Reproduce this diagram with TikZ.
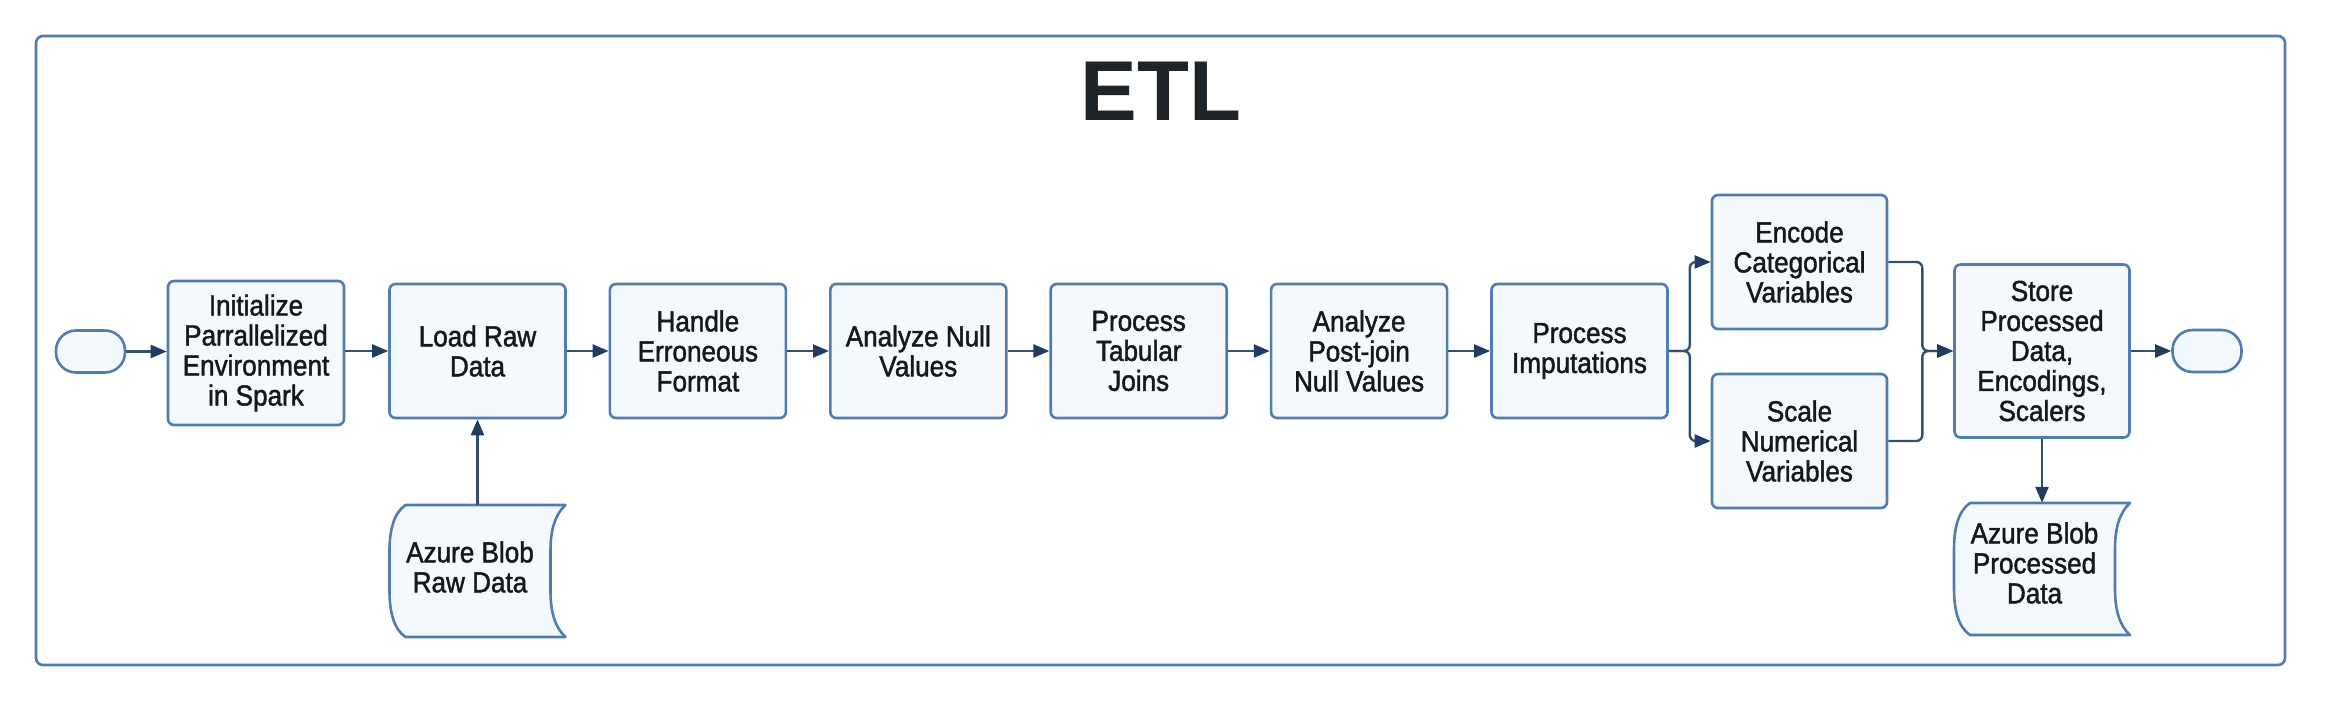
\documentclass[tikz,border=0pt]{standalone}
\usepackage{fontspec}
\setmainfont{Liberation Sans}
\newfontfamily\boxfont[FakeStretch=0.9,FakeBold=1.5]{Liberation Sans}
\usetikzlibrary{arrows.meta}
\definecolor{frameblue}{HTML}{4F7DB3}
\definecolor{boxfill}{HTML}{F5F9FE}
\definecolor{arrowc}{HTML}{34506F}
\definecolor{headc}{HTML}{1F3D63}
\definecolor{txt}{HTML}{16181B}
\definecolor{titlec}{HTML}{1F2429}
\newcommand\blobpath[2]{%
  \draw[blobline] (#1-72,#2-66) -- (#1+88,#2-66)
    .. controls (#1+77,#2-56) and (#1+73,#2-40) .. (#1+73,#2-20)
    -- (#1+73,#2+20)
    .. controls (#1+73,#2+40) and (#1+77,#2+56) .. (#1+88,#2+66)
    -- (#1-72,#2+66)
    .. controls (#1-84,#2+58) and (#1-88,#2+40) .. (#1-88,#2+20)
    -- (#1-88,#2-20)
    .. controls (#1-88,#2-40) and (#1-84,#2-58) .. (#1-72,#2-66) -- cycle;}
\begin{document}
\begin{tikzpicture}[x=1pt,y=-1pt,
  proc/.style={draw=frameblue, fill=boxfill, line width=2.6pt, rounded corners=6pt,
    minimum width=176pt, minimum height=134pt, align=center,
    font=\boxfont\fontsize{29}{30}\selectfont, text=txt, inner sep=0pt},
  term/.style={draw=frameblue, fill=boxfill, line width=2.6pt, rounded corners=20pt,
    minimum width=69pt, minimum height=42pt, inner sep=0pt},
  blobline/.style={draw=frameblue, fill=boxfill, line width=2.6pt, line join=round},
  blobtext/.style={align=center, font=\boxfont\fontsize{29}{30}\selectfont, text=txt, inner sep=0pt},
  blobbox/.style={minimum width=176pt, minimum height=132pt, inner sep=0pt},
  flow/.style={draw=arrowc, line width=2.4pt, rounded corners=6pt,
    -{Triangle[length=16pt,width=13pt,color=headc]}},
]
\useasboundingbox (0,0) rectangle (2328,702);
\node[draw=frameblue, line width=2.6pt, rounded corners=7pt, minimum width=2249pt,
  minimum height=629pt, inner sep=0pt] (frame) at (1160.5,350.5) {};
\node[font=\fontsize{85}{85}\selectfont\bfseries, text=titlec, anchor=base, inner sep=0pt]
  (title) at (1161,120) {ETL};

\node[term] (start) at (90.5,351.5) {};
\node[proc, minimum height=144pt] (init) at (256,353) {Initialize\\Parrallelized\\Environment\\in Spark};
\node[proc] (load) at (477.5,351) {Load Raw\\Data};
\node[proc] (handle) at (697.9,351) {Handle\\Erroneous\\Format};
\node[proc] (nullv) at (918.3,351) {Analyze Null\\Values};
\node[proc] (tabular) at (1138.7,351) {Process\\Tabular\\Joins};
\node[proc] (postjoin) at (1359.1,351) {Analyze\\Post-join\\Null Values};
\node[proc] (imput) at (1579.5,351) {Process\\Imputations};
\node[proc, minimum width=175pt] (encode) at (1799.5,262) {Encode\\Categorical\\Variables};
\node[proc, minimum width=175pt] (scale) at (1799.5,441) {Scale\\Numerical\\Variables};
\node[proc, minimum width=175pt, minimum height=173pt] (store) at (2042,351) {Store\\Processed\\Data,\\Encodings,\\Scalers};
\node[term] (end) at (2207,351) {};

\blobpath{477.5}{571}
\node[blobbox] (raw) at (477.5,571) {};
\node[blobtext] (rawt) at (470,567) {Azure Blob\\Raw Data};
\blobpath{2042}{569}
\node[blobbox] (proc) at (2042,569) {};
\node[blobtext] (proct) at (2034.5,563) {Azure Blob\\Processed\\Data};

\draw[flow] (start) -- (start -| init.west);
\draw[flow] (init.east |- load) -- (load);
\draw[flow] (load) -- (handle);
\draw[flow] (handle) -- (nullv);
\draw[flow] (nullv) -- (tabular);
\draw[flow] (tabular) -- (postjoin);
\draw[flow] (postjoin) -- (imput);
\draw[flow] (imput.east) -- ++(21,0) |- (encode.west);
\draw[flow] (imput.east) -- ++(21,0) |- (scale.west);
\draw[flow] (encode.east) -- ++(34,0) |- (store.west);
\draw[flow] (scale.east) -- ++(34,0) |- (store.west);
\draw[flow] (store) -- (end);
\draw[flow] (raw.north) -- (load.south);
\draw[flow] (store.south) -- (proc.north);
\end{tikzpicture}
\end{document}
